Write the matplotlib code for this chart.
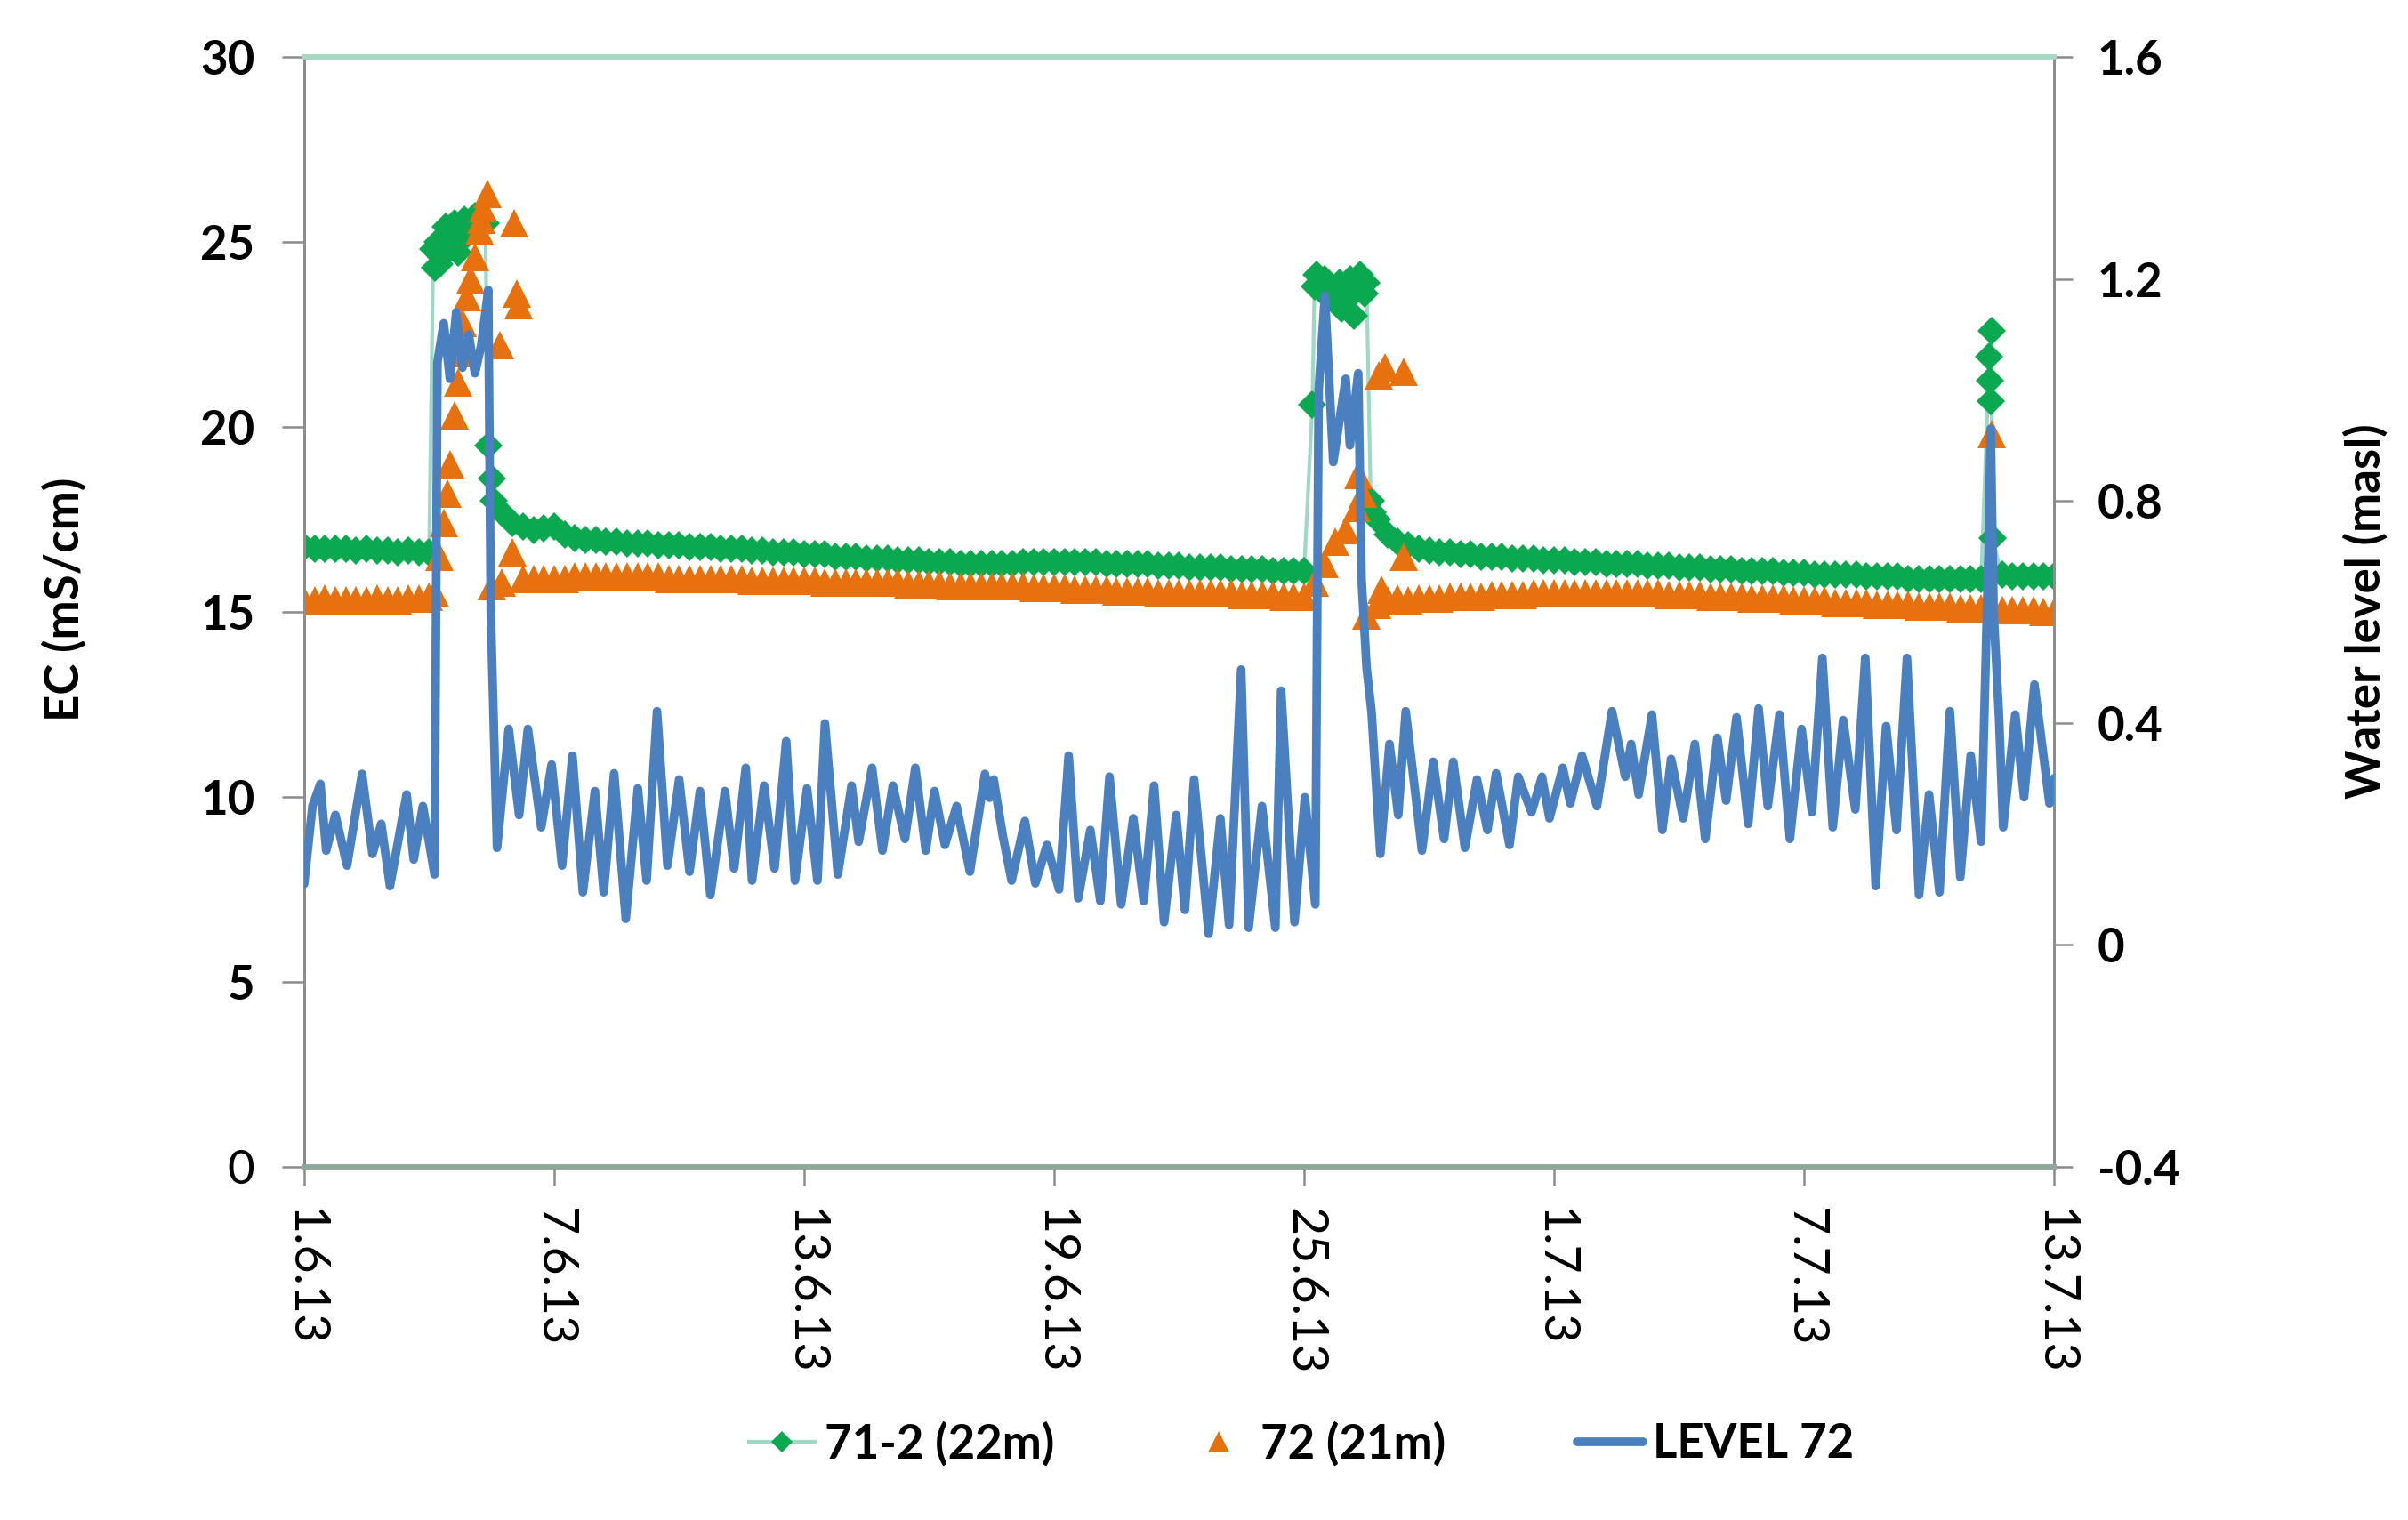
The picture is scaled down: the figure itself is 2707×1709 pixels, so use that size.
import numpy as np
import matplotlib
matplotlib.use("Agg")
import matplotlib.pyplot as plt

plt.rcParams['font.family'] = ['Lato', 'DejaVu Sans']

# time axis: days after 1.6.13
tick_days = [0, 6, 12, 18, 24, 30, 36, 42]
tick_labels = ["1.6.13", "7.6.13", "13.6.13", "19.6.13", "25.6.13", "1.7.13", "7.7.13", "13.7.13"]

# EC 71-2 (22m), read every 0.25 day
ec71_base = [
    16.75, 16.7, 16.7, 16.7,   16.7, 16.65, 16.7, 16.65,   16.65, 16.6, 16.65, 16.6,
    16.6, 24.4, 25.1, 25.3,    25.5, 25.4, 18.6, 17.7,     17.4, 17.3, 17.2, 17.25,
    17.3, 17.1, 17.0, 16.95,   16.95, 16.9, 16.9, 16.85,   16.85, 16.85, 16.8, 16.8,
    16.8, 16.75, 16.75, 16.75, 16.7, 16.7, 16.7, 16.65,    16.65, 16.6, 16.6, 16.6,
    16.55, 16.55, 16.55, 16.5, 16.5, 16.5, 16.45, 16.45,   16.45, 16.4, 16.4, 16.4,
    16.35, 16.35, 16.35, 16.3, 16.3, 16.3, 16.3, 16.3,     16.3, 16.35, 16.35, 16.35,
    16.35, 16.35, 16.35, 16.35, 16.35, 16.3, 16.3, 16.3,   16.3, 16.3, 16.25, 16.25,
    16.25, 16.2, 16.2, 16.2,   16.2, 16.15, 16.15, 16.15,  16.15, 16.1, 16.1, 16.1,
    16.1, 23.8, 24.0, 23.5,    23.4, 23.8, 23.9, 17.5,     17.1, 16.9, 16.8, 16.7,
    16.65, 16.6, 16.6, 16.55,  16.55, 16.5, 16.5, 16.5,    16.45, 16.45, 16.45, 16.4,
    16.4, 16.4, 16.35, 16.35,  16.35, 16.3, 16.3, 16.3,    16.3, 16.25, 16.25, 16.25,
    16.2, 16.2, 16.2, 16.15,   16.15, 16.15, 16.1, 16.1,   16.1, 16.1, 16.05, 16.05,
    16.05, 16.0, 16.0, 16.0,   16.0, 16.0, 15.95, 15.95,   15.95, 15.95, 15.9, 15.9,
    15.9, 15.9, 15.9, 15.9,    15.9, 15.9, 22.6, 16.0,     15.95, 15.95, 15.95, 15.95,
    15.95,
]
ec71_extra_day = [3.1, 3.15, 3.2, 3.3, 3.4, 3.45, 3.6, 3.7, 3.85, 3.9, 4.1, 4.35, 4.42, 4.55,
                  24.2, 24.3, 24.4, 24.6, 24.85, 24.9, 25.1, 25.2, 25.35, 25.45, 25.6, 25.65,
                  40.45, 40.47, 40.49, 40.52]
ec71_extra = [24.8, 24.3, 25.0, 24.6, 25.4, 24.9, 25.5, 24.7, 25.6, 25.2, 25.7, 25.5, 19.5, 18.0,
              20.6, 24.1, 23.7, 23.5, 23.9, 23.2, 24.0, 23.0, 24.1, 23.6, 18.0, 17.7,
              21.9, 21.25, 20.7, 17.0]

# EC 72 (21m), read every 0.25 day
ec72_base = [
    15.3, 15.3, 15.35, 15.3,   15.3, 15.3, 15.3, 15.35,    15.3, 15.3, 15.35, 15.35,
    15.4, 16.5, 19.0, 22.0,    24.0, 25.6, 15.7, 15.8,     16.6, 15.9, 15.9, 15.9,
    15.9, 15.9, 15.95, 15.95,  15.95, 15.95, 15.95, 15.95, 15.95, 15.95, 15.95, 15.9,
    15.9, 15.9, 15.9, 15.9,    15.9, 15.9, 15.9, 15.85,    15.85, 15.85, 15.85, 15.85,
    15.85, 15.85, 15.8, 15.8,  15.8, 15.8, 15.8, 15.8,     15.8, 15.8, 15.75, 15.75,
    15.75, 15.75, 15.7, 15.7,  15.7, 15.7, 15.7, 15.7,     15.7, 15.7, 15.65, 15.65,
    15.65, 15.65, 15.6, 15.6,  15.6, 15.6, 15.55, 15.55,   15.55, 15.55, 15.5, 15.5,
    15.5, 15.5, 15.5, 15.5,    15.5, 15.5, 15.45, 15.45,   15.45, 15.45, 15.4, 15.4,
    15.4, 15.8, 16.3, 16.9,    17.2, 17.8, 14.9, 15.2,     15.3, 15.35, 15.3, 15.35,
    15.35, 15.35, 15.4, 15.4,  15.4, 15.4, 15.45, 15.45,   15.45, 15.45, 15.5, 15.5,
    15.5, 15.5, 15.5, 15.5,    15.5, 15.5, 15.5, 15.5,     15.5, 15.5, 15.5, 15.45,
    15.45, 15.45, 15.45, 15.4, 15.4, 15.4, 15.4, 15.35,    15.35, 15.35, 15.35, 15.3,
    15.3, 15.3, 15.3, 15.25,   15.25, 15.25, 15.25, 15.2,  15.2, 15.2, 15.2, 15.15,
    15.15, 15.15, 15.15, 15.1, 15.1, 15.1, 19.8, 15.05,    15.05, 15.05, 15.05, 15.0,
    15.0,
]
ec72_extra_day = [3.15, 3.35, 3.45, 3.6, 3.7, 3.8, 3.9, 4.1, 4.2, 4.3, 4.4, 4.7, 5.05, 5.1, 5.15,
                  25.3, 25.4, 25.8, 25.85, 25.95, 26.4, 26.4]
ec72_extra = [15.5, 17.4, 18.2, 20.3, 21.2, 22.8, 23.5, 24.6, 25.3, 25.9, 26.3, 22.2, 25.5, 23.6, 23.3,
              18.7, 18.2, 21.4, 15.6, 21.6, 21.5, 16.5]

# LEVEL 72 (masl), peaks and troughs
level_day = [
    0.0, 0.2, 0.39, 0.53, 0.75, 1.03, 1.39, 1.64, 1.85, 2.06, 2.46, 2.63, 2.85, 3.13,
    3.2, 3.35, 3.5, 3.65, 3.8, 3.95, 4.1, 4.25, 4.42, 4.48, 4.63,
    4.91, 5.16, 5.37, 5.69, 5.94, 6.19, 6.44, 6.69, 6.98, 7.19, 7.44, 7.72, 8.01, 8.22,
    8.47, 8.72, 9.0, 9.25, 9.5, 9.75, 10.1, 10.32, 10.6,
    10.75, 11.04, 11.29, 11.57, 11.78, 12.07, 12.32, 12.5, 12.81, 13.14, 13.31, 13.63,
    13.88, 14.13, 14.42, 14.67, 14.92, 15.13, 15.38, 15.66, 15.98, 16.34, 16.45, 16.55,
    16.77, 16.98, 17.3, 17.55, 17.83, 18.12, 18.35, 18.58, 18.87, 19.11, 19.33, 19.61,
    19.9, 20.15, 20.4, 20.64, 20.93, 21.14, 21.36,
    21.71, 21.99, 22.2, 22.49, 22.67, 22.99, 23.31, 23.45, 23.77, 24.02, 24.27,
    24.35, 24.5, 24.7, 25.0, 25.1, 25.3, 25.38, 25.5, 25.62, 25.83,
    26.05, 26.26, 26.44, 26.83, 27.1, 27.36, 27.58, 27.86, 28.15, 28.4, 28.61, 28.93,
    29.14, 29.46, 29.71, 29.89, 30.21, 30.39, 30.67, 31.03, 31.39, 31.71, 31.85, 32.03,
    32.35, 32.6, 32.81, 33.1, 33.38, 33.63, 33.92, 34.13, 34.38, 34.66, 34.91, 35.13,
    35.41, 35.66, 35.94, 36.19, 36.44, 36.69, 36.94, 37.23, 37.47, 37.72, 37.97, 38.22,
    38.47, 38.76, 39.0, 39.25, 39.5, 39.75, 40.0, 40.25,
    40.43, 40.48, 40.55, 40.68, 40.78, 41.07, 41.28, 41.53, 41.89, 42.0,
]
level_72 = [
    0.11, 0.25, 0.29, 0.17, 0.234, 0.143, 0.308, 0.164, 0.218, 0.106, 0.271, 0.154, 0.25, 0.127,
    1.05, 1.12, 1.02, 1.14, 1.04, 1.10, 1.03, 1.08, 1.18, 0.60, 0.175,
    0.389, 0.234, 0.389, 0.212, 0.325, 0.143, 0.341, 0.095, 0.277, 0.095, 0.309, 0.047, 0.282, 0.116,
    0.421, 0.143, 0.298, 0.132, 0.277, 0.09, 0.277, 0.138, 0.319,
    0.116, 0.287, 0.138, 0.367, 0.116, 0.282, 0.116, 0.399, 0.127, 0.287, 0.186, 0.319,
    0.17, 0.287, 0.191, 0.319, 0.17, 0.277, 0.18, 0.25, 0.132, 0.308, 0.265, 0.298,
    0.196, 0.116, 0.223, 0.111, 0.18, 0.1, 0.341, 0.084, 0.207, 0.079, 0.303, 0.073,
    0.228, 0.079, 0.287, 0.041, 0.234, 0.063, 0.298,
    0.02, 0.228, 0.036, 0.496, 0.031, 0.25, 0.031, 0.458, 0.041, 0.266, 0.073,
    1.0, 1.17, 0.87, 1.02, 0.90, 1.03, 0.66, 0.50, 0.42, 0.164,
    0.362, 0.234, 0.421, 0.17, 0.33, 0.191, 0.33, 0.175, 0.298, 0.207, 0.309, 0.18,
    0.303, 0.239, 0.303, 0.228, 0.319, 0.255, 0.341, 0.25, 0.421, 0.303, 0.362, 0.271,
    0.415, 0.207, 0.335, 0.228, 0.362, 0.191, 0.373, 0.26, 0.41, 0.218, 0.426, 0.25,
    0.415, 0.191, 0.389, 0.239, 0.517, 0.212, 0.405, 0.244, 0.517, 0.106, 0.394, 0.207,
    0.517, 0.09, 0.271, 0.095, 0.421, 0.122, 0.341, 0.186,
    0.72, 0.93, 0.6, 0.41, 0.212, 0.415, 0.266, 0.469, 0.255, 0.30,
]

ec_ticks = [0, 5, 10, 15, 20, 25, 30]
level_ticks = [-0.4, 0.0, 0.4, 0.8, 1.2, 1.6]
level_tick_labels = ["-0.4", "0", "0.4", "0.8", "1.2", "1.6"]

green = '#0aa84f'
green_line = '#9fd8c6'
orange = '#e8710f'
blue = '#4a7fc0'
axis_grey = '#8c8c8c'

base_days = np.arange(len(ec71_base)) * 0.25


def merged(days, vals, extra_days, extra_vals):
    d = np.concatenate([days, extra_days])
    v = np.concatenate([vals, extra_vals])
    order = np.argsort(d, kind='stable')
    return d[order], v[order]


d71, v71 = merged(base_days, ec71_base, ec71_extra_day, ec71_extra)
d72, v72 = merged(base_days, ec72_base, ec72_extra_day, ec72_extra)

fig = plt.figure(figsize=(27.07, 17.09), dpi=100)
ax = fig.add_axes([0.1263, 0.2323, 0.7267, 0.7303])
ax2 = ax.twinx()

ax.plot(d71, v71, color=green_line, lw=3, marker='D', ms=16,
        mfc=green, mec=green, mew=0, label='71-2 (22m)', zorder=2)
ax.plot(d72, v72, ls='none', marker='^', ms=23, mfc=orange, mec=orange, mew=0,
        label='72 (21m)', zorder=3)
ax2.plot(level_day, level_72, color=blue, lw=7, solid_joinstyle='round',
         solid_capstyle='round', label='LEVEL 72', zorder=4)

ax.set_xlim(0, 42)
ax.set_ylim(0, 30)
ax2.set_ylim(-0.4, 1.6)

ax.set_xticks(tick_days)
ax.set_xticklabels(tick_labels, rotation=-90, fontsize=40, va='top', ha='center')
ax.set_yticks(ec_ticks)
ax.set_yticklabels([str(t) for t in ec_ticks], fontsize=38, fontweight='bold')
for lab in ax.get_yticklabels():
    if lab.get_text() == '0':
        lab.set_fontweight('normal')
ax2.set_yticks(level_ticks)
ax2.set_yticklabels(level_tick_labels, fontsize=38, fontweight='bold')

ax.tick_params(axis='y', direction='out', length=18, width=1.8, color=axis_grey, pad=22)
ax.tick_params(axis='x', direction='out', length=15, width=1.8, color=axis_grey, pad=18)
ax2.tick_params(axis='y', direction='out', length=15, width=1.8, color=axis_grey, pad=20)

for a in (ax, ax2):
    a.spines['left'].set_color(axis_grey)
    a.spines['right'].set_color(axis_grey)
    a.spines['left'].set_linewidth(2)
    a.spines['right'].set_linewidth(2)
    a.spines['bottom'].set_color('#8fa89c')
    a.spines['bottom'].set_linewidth(4)
    a.spines['top'].set_color('#a6d8c2')
    a.spines['top'].set_linewidth(4)

fig.text(0.0266, 0.606, 'EC (mS/cm)', rotation=90, ha='center', va='center',
         fontsize=38, fontweight='bold')
fig.text(0.9823, 0.598, 'Water level (masl)', rotation=90, ha='center', va='center',
         fontsize=38, fontweight='bold')

h1, l1 = ax.get_legend_handles_labels()
h2, l2 = ax2.get_legend_handles_labels()
fig.legend(h1 + h2, l1 + l2, loc='center', bbox_to_anchor=(0.5405, 0.0503), ncol=3,
           frameon=False, prop={'size': 38, 'weight': 'bold'}, handlelength=1.4,
           handletextpad=0.2, columnspacing=2.8, markerscale=0.75)

fig.savefig('out.png', dpi=100)
